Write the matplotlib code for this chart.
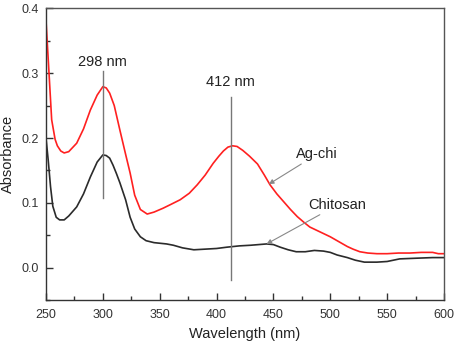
import matplotlib
matplotlib.use("Agg")
import matplotlib.pyplot as plt
import matplotlib.ticker as ticker

plt.rcParams['font.family'] = ['Liberation Sans', 'DejaVu Sans']

# Ag-chi spectrum (red)
agchi_wl = [250, 252, 255, 258, 260, 263, 266, 270, 277, 283, 289, 295, 300, 303, 306, 310,
            315, 320, 324, 328, 333, 339, 345, 353, 360, 368, 376, 383, 390, 397, 402, 406,
            410, 414, 418, 423, 429, 436, 442, 447, 453, 459, 465, 471, 477, 482, 488, 494,
            500, 508, 515, 520, 526, 533, 541, 550, 560, 570, 580, 590, 595, 600]
agchi_abs = [0.381, 0.32, 0.228, 0.198, 0.188, 0.180, 0.177, 0.179, 0.192, 0.214, 0.243, 0.266,
             0.279, 0.277, 0.269, 0.250, 0.212, 0.175, 0.146, 0.112, 0.090, 0.083, 0.086, 0.092,
             0.098, 0.105, 0.115, 0.128, 0.143, 0.161, 0.172, 0.180, 0.186, 0.188, 0.187, 0.181,
             0.172, 0.160, 0.143, 0.128, 0.114, 0.102, 0.090, 0.079, 0.070, 0.063, 0.058, 0.053,
             0.048, 0.040, 0.033, 0.029, 0.025, 0.023, 0.022, 0.022, 0.023, 0.023, 0.024, 0.024,
             0.022, 0.022]

# Chitosan spectrum (black)
chi_wl = [250, 252, 254, 256, 259, 262, 266, 270, 277, 283, 289, 295, 300, 303, 306, 309,
          312, 315, 320, 324, 328, 333, 338, 345, 356, 362, 370, 380, 390, 400, 409, 420,
          430, 444, 450, 456, 463, 470, 478, 486, 494, 500, 506, 515, 522, 530, 541, 550,
          561, 575, 590, 600]
chi_abs = [0.200, 0.165, 0.125, 0.095, 0.078, 0.074, 0.074, 0.080, 0.094, 0.114, 0.140, 0.163,
           0.174, 0.173, 0.169, 0.158, 0.145, 0.131, 0.105, 0.078, 0.060, 0.048, 0.042, 0.039,
           0.037, 0.035, 0.031, 0.028, 0.029, 0.030, 0.032, 0.034, 0.035, 0.037, 0.036, 0.032,
           0.028, 0.025, 0.025, 0.027, 0.026, 0.024, 0.020, 0.016, 0.012, 0.009, 0.009, 0.010,
           0.014, 0.015, 0.016, 0.016]

peak_labels = ["298 nm", "412 nm"]
peak_wl = [300, 412.5]
peak_line_bottom = [0.107, -0.018]
peak_line_top = [0.303, 0.263]
peak_text_y = [0.317, 0.286]

fig = plt.figure(figsize=(4.54, 3.44), dpi=100)
ax = fig.add_axes([0.1013, 0.1265, 0.8767, 0.8502])

ax.plot(chi_wl, chi_abs, color='#2b2b2b', lw=1.2)
ax.plot(agchi_wl, agchi_abs, color='#ff2020', lw=1.2)

for lab, wl, y0, y1, ty in zip(peak_labels, peak_wl, peak_line_bottom, peak_line_top, peak_text_y):
    ax.plot([wl, wl], [y0, y1], color='#777777', lw=1.0)
    ax.text(wl, ty, lab, ha='center', va='center', fontsize=10.5, color='#222222')

ax.annotate("Ag-chi", xy=(446, 0.129), xytext=(470, 0.175), fontsize=10.5, color='#222222',
            ha='left', va='center',
            arrowprops=dict(arrowstyle='-|>', color='#888888', lw=0.8, mutation_scale=7,
                            shrinkA=0, shrinkB=0))
ax.annotate("Chitosan", xy=(444, 0.037), xytext=(481, 0.097), fontsize=10.5, color='#222222',
            ha='left', va='center',
            arrowprops=dict(arrowstyle='-|>', color='#888888', lw=0.8, mutation_scale=7,
                            shrinkA=0, shrinkB=0))

ax.set_xlim(250, 600)
ax.set_ylim(-0.05, 0.4)
ax.xaxis.set_major_locator(ticker.MultipleLocator(50))
ax.xaxis.set_minor_locator(ticker.MultipleLocator(25))
ax.yaxis.set_major_locator(ticker.MultipleLocator(0.1))
ax.yaxis.set_minor_locator(ticker.MultipleLocator(0.05))
ax.yaxis.set_major_formatter(ticker.FormatStrFormatter('%.1f'))
ax.tick_params(which='both', direction='in', colors='#333333', labelsize=9, width=1.0)
ax.tick_params(which='major', length=5)
ax.tick_params(which='minor', length=3)
ax.tick_params(axis='x', pad=6)
ax.tick_params(axis='y', pad=5)
for s in ax.spines.values():
    s.set_color('#333333')
    s.set_linewidth(1.0)
ax.spines['top'].set_color('#555555')
ax.spines['right'].set_color('#555555')

ax.set_xlabel("Wavelength (nm)", fontsize=10.5, color='#222222')
ax.set_ylabel("Absorbance", fontsize=10.5, color='#222222', va='center')
ax.xaxis.set_label_coords(245 / 454, 1 - 327 / 344, transform=fig.transFigure)
ax.yaxis.set_label_coords(8 / 454, 1 - 154 / 344, transform=fig.transFigure)

fig.savefig("out.png", dpi=100)
